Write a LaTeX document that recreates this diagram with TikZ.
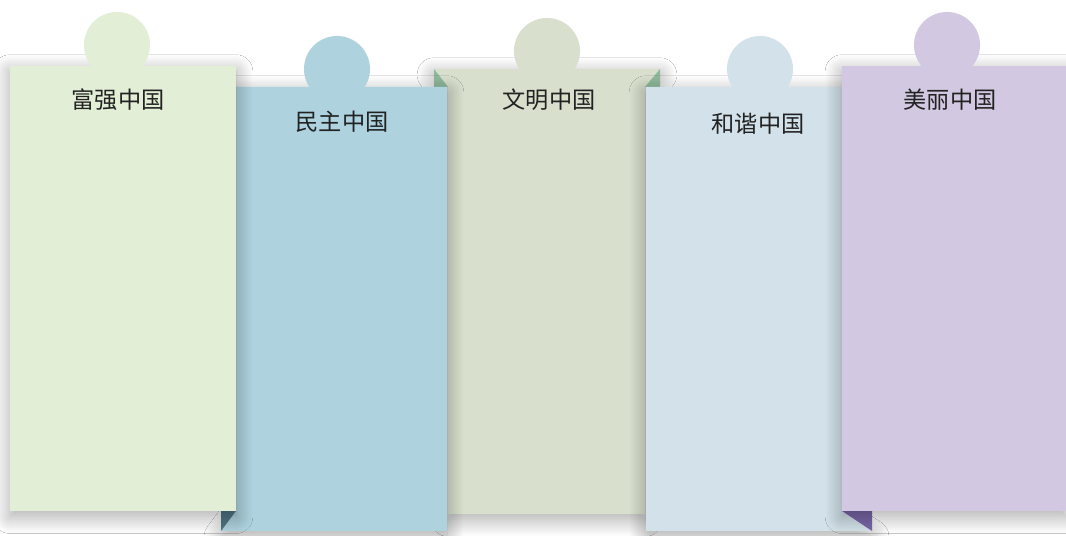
\documentclass[tikz,border=0pt]{standalone}
\usepackage{fontspec}
\newfontfamily\cjk{Noto Sans CJK SC}
\usetikzlibrary{shadows.blur}
\definecolor{GreenClr}{HTML}{E2EED5}
\definecolor{BlueClr}{HTML}{AED3DF}
\definecolor{SageClr}{HTML}{D8E0CD}
\definecolor{MistClr}{HTML}{D3E2EA}
\definecolor{LilacClr}{HTML}{D2C8E1}
\definecolor{BlueFoldClr}{HTML}{4F7585}
\definecolor{SageFoldClr}{HTML}{8FB99C}
\definecolor{LilacFoldClr}{HTML}{7A66A8}
\definecolor{TextClr}{HTML}{222222}

\begin{document}
\begin{tikzpicture}[x=0.025cm,y=-0.025cm,
  panel/.style={blur shadow={shadow xshift=0pt,shadow yshift=-4pt,shadow blur radius=12pt,shadow blur steps=24,shadow opacity=35,shadow blur extra rounding=0pt}},
  title/.style={font=\cjk\fontsize{16.5}{17}\selectfont,text=TextClr}]
\useasboundingbox[fill=white] (0,0) rectangle (1066,536);

\fill[SageClr,panel] (434,69) -- (660,69) -- (645,87) -- (645,514) -- (448,514) -- (448,87) -- cycle;
\fill[SageFoldClr] (434,69) -- (448,87) -- (434,87) -- cycle;
\fill[SageFoldClr] (660,69) -- (660,87) -- (645,87) -- cycle;
\fill[SageClr] (547,51) circle[radius=0.825cm];

\fill[BlueClr,panel] (236,87) -- (447,87) -- (447,531) -- (221,531) -- (236,511) -- cycle;
\fill[BlueFoldClr] (221,511) -- (236,511) -- (221,531) -- cycle;
\fill[BlueClr] (337,69) circle[radius=0.825cm];

\fill[MistClr,panel] (646,87) -- (842,87) -- (842,511) -- (872,531) -- (646,531) -- cycle;
\fill[LilacFoldClr] (842,511) -- (872,511) -- (872,531) -- cycle;
\fill[MistClr] (760,69) circle[radius=0.825cm];

\fill[GreenClr,panel] (10,66) rectangle (236,511);
\fill[GreenClr] (117,45) circle[radius=0.825cm];

\fill[LilacClr,panel] (842,66) rectangle (1066,511);
\fill[LilacClr] (947,45) circle[radius=0.825cm];

\node[title] (fuqiang) at (118,100) {富强中国};
\node[title] (minzhu) at (342,122) {民主中国};
\node[title] (wenming) at (549,100) {文明中国};
\node[title] (hexie) at (758,124) {和谐中国};
\node[title] (meili) at (950,100) {美丽中国};

\end{tikzpicture}
\end{document}
